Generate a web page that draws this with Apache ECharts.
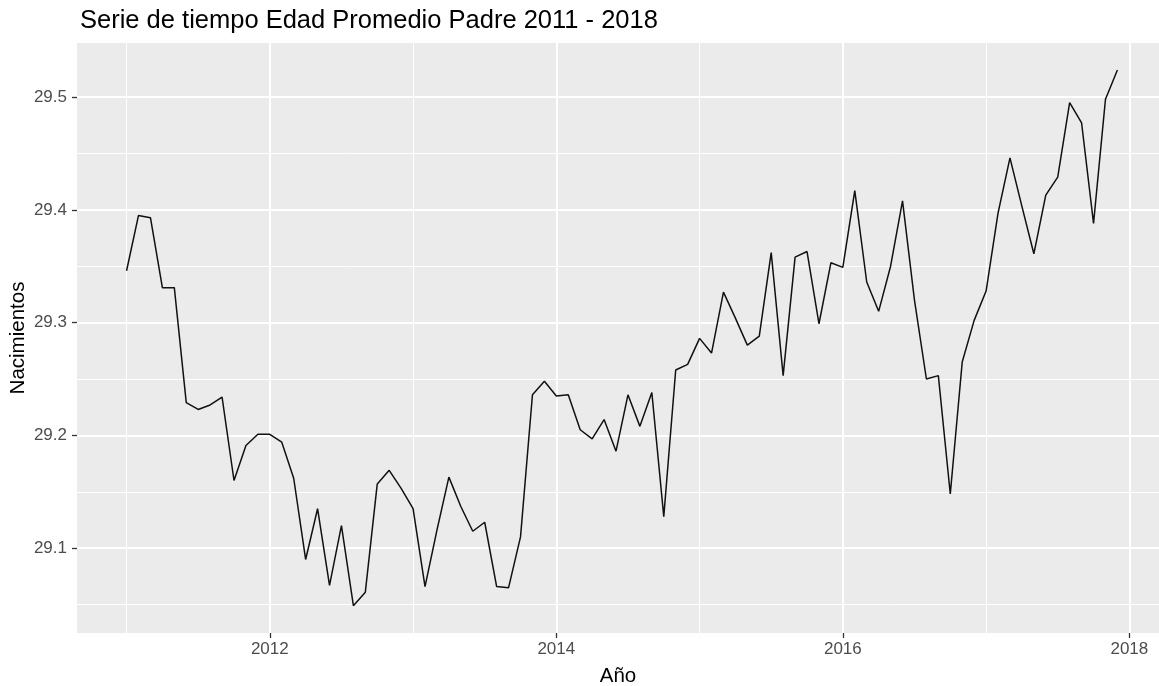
<!DOCTYPE html>
<html>
<head>
<meta charset="utf-8">
<title>Serie de tiempo Edad Promedio Padre</title>
<script src="https://cdn.jsdelivr.net/npm/echarts@6.0.0/dist/echarts.min.js"></script>
<style>
  html, body { margin: 0; padding: 0; background: #fff; }
  #chart { width: 1159px; height: 686px; }
</style>
</head>
<body>
<div id="chart"></div>
<script>
// serie mensual, enero 2011 - diciembre 2017
const startYear = 2011;
const edad2011 = [29.346, 29.395, 29.393, 29.331, 29.331, 29.229, 29.223, 29.227, 29.234, 29.160, 29.191, 29.201];
const edad2012 = [29.201, 29.194, 29.162, 29.090, 29.135, 29.067, 29.120, 29.049, 29.061, 29.157, 29.169, 29.153];
const edad2013 = [29.135, 29.066, 29.116, 29.163, 29.137, 29.115, 29.123, 29.066, 29.065, 29.110, 29.236, 29.248];
const edad2014 = [29.235, 29.236, 29.205, 29.197, 29.214, 29.186, 29.236, 29.208, 29.238, 29.128, 29.258, 29.263];
const edad2015 = [29.286, 29.273, 29.327, 29.304, 29.280, 29.288, 29.362, 29.253, 29.358, 29.363, 29.299, 29.353];
const edad2016 = [29.349, 29.417, 29.336, 29.310, 29.350, 29.408, 29.320, 29.250, 29.253, 29.148, 29.265, 29.302];
const edad2017 = [29.328, 29.397, 29.446, 29.403, 29.361, 29.413, 29.429, 29.495, 29.477, 29.388, 29.498, 29.524];

const xMajorTicks = [2012, 2014, 2016, 2018];
const xMinorTicks = [2011, 2013, 2015, 2017];
const yMajorTicks = [29.1, 29.2, 29.3, 29.4, 29.5];
const yMinorTicks = [29.05, 29.15, 29.25, 29.35, 29.45];

const edad = [].concat(edad2011, edad2012, edad2013, edad2014, edad2015, edad2016, edad2017);
// tiempo como en ts() de R: año + (mes - 1) / 12
const serie = edad.map((v, i) => [startYear + i / 12, v]);

const font = "'Liberation Sans', Arial, sans-serif";
const xMin = 2010.654, xMax = 2018.207;
const yMin = 29.0248, yMax = 29.5479;

const chart = echarts.init(document.getElementById('chart'));

const option = {
  backgroundColor: '#ffffff',
  animation: false,
  title: {
    text: 'Serie de tiempo Edad Promedio Padre 2011 - 2018',
    left: 75,
    top: 3,
    textStyle: { fontFamily: font, fontSize: 25.5, fontWeight: 'normal', color: '#000000' }
  },
  grid: {
    left: 77,
    right: 0,
    top: 43,
    bottom: 53,
    containLabel: false,
    outerBoundsMode: 'none',
    show: true,
    backgroundColor: '#EBEBEB',
    borderWidth: 0
  },
  xAxis: [
    {
      type: 'value',
      min: xMin,
      max: xMax,
      name: 'Año',
      nameLocation: 'middle',
      nameGap: 33,
      nameMoveOverlap: false,
      nameTextStyle: { fontFamily: font, fontSize: 20.5, color: '#000000' },
      axisLine: { show: false },
      axisTick: {
        show: true,
        length: 5,
        customValues: xMajorTicks,
        lineStyle: { color: '#333333', width: 1.3 }
      },
      axisLabel: {
        customValues: xMajorTicks,
        margin: 8,
        fontFamily: font,
        fontSize: 17,
        color: '#4D4D4D',
        formatter: (v) => String(v)
      },
      splitLine: { show: true, lineStyle: { color: '#ffffff', width: 2 } }
    },
    {
      type: 'value',
      min: xMin,
      max: xMax,
      position: 'bottom',
      axisLine: { show: false },
      axisTick: { show: false, customValues: xMinorTicks },
      axisLabel: { show: false, customValues: xMinorTicks },
      splitLine: { show: true, lineStyle: { color: '#ffffff', width: 1 } }
    }
  ],
  yAxis: [
    {
      type: 'value',
      min: yMin,
      max: yMax,
      name: 'Nacimientos',
      nameLocation: 'middle',
      nameGap: 48,
      nameRotate: 90,
      nameMoveOverlap: false,
      nameTextStyle: { fontFamily: font, fontSize: 20.5, color: '#000000' },
      axisLine: { show: false },
      axisTick: {
        show: true,
        length: 5,
        customValues: yMajorTicks,
        lineStyle: { color: '#333333', width: 1.3 }
      },
      axisLabel: {
        customValues: yMajorTicks,
        margin: 10,
        fontFamily: font,
        fontSize: 17,
        color: '#4D4D4D',
        formatter: (v) => v.toFixed(1)
      },
      splitLine: { show: true, lineStyle: { color: '#ffffff', width: 2 } }
    },
    {
      type: 'value',
      min: yMin,
      max: yMax,
      position: 'left',
      axisLine: { show: false },
      axisTick: { show: false, customValues: yMinorTicks },
      axisLabel: { show: false, customValues: yMinorTicks },
      splitLine: { show: true, lineStyle: { color: '#ffffff', width: 1 } }
    }
  ],
  series: [
    {
      name: 'Edad promedio',
      type: 'line',
      xAxisIndex: 0,
      yAxisIndex: 0,
      data: serie,
      showSymbol: false,
      lineStyle: { color: '#111111', width: 1.5 },
      z: 5
    }
  ]
};

chart.setOption(option);
</script>
</body>
</html>
